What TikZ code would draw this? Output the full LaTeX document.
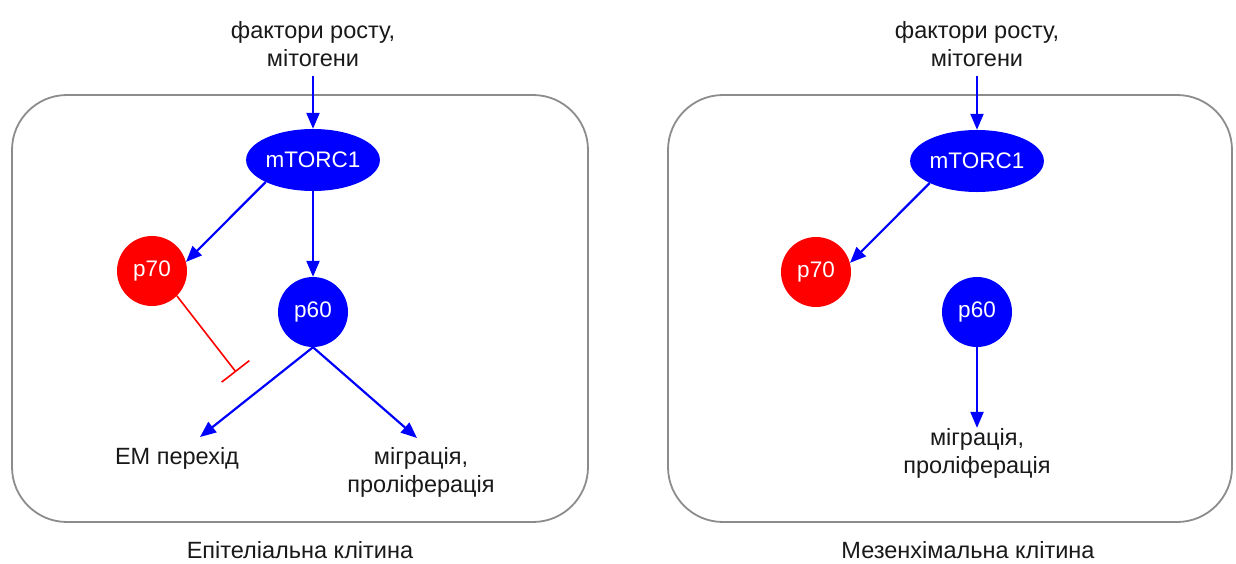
\documentclass[tikz,border=0pt]{standalone}
\usepackage{fontspec}
\setmainfont{Liberation Sans}
\usetikzlibrary{shapes.geometric,arrows.meta}
\definecolor{sigblue}{RGB}{0,0,255}
\definecolor{sigred}{RGB}{255,0,0}
\definecolor{cellgray}{RGB}{140,140,140}
\definecolor{ink}{RGB}{25,25,25}
\tikzset{
  cell/.style={draw=cellgray, line width=1.8pt, rounded corners=55pt},
  lbl/.style={text=ink, font=\fontsize{23.5}{28}\selectfont, align=center, inner sep=0pt},
  kinase/.style={ellipse, fill=sigblue, text=white, minimum width=130pt, minimum height=62pt, inner sep=0pt, font=\fontsize{22.5}{26}\selectfont},
  redball/.style={circle, fill=sigred, text=white, minimum size=70pt, inner sep=0pt, font=\fontsize{22.5}{26}\selectfont},
  blueball/.style={circle, fill=sigblue, text=white, minimum size=70pt, inner sep=0pt, font=\fontsize{22.5}{26}\selectfont},
  act/.style={draw=sigblue, line width=2.2pt, -{Triangle[length=16pt,width=13pt]}},
  inh/.style={draw=sigred, line width=1.6pt, -{Bar[width=35pt]}},
}
\begin{document}
\begin{tikzpicture}[x=1pt,y=-1pt]
\useasboundingbox (0,0) rectangle (1236,563);

% epithelial cell
\draw[cell] (12,95) rectangle (588,522);
\node[lbl] (gfL) at (313,44) {фактори росту,\\мітогени};
\coordinate (gfLend) at (313,76);
\node[kinase] (mtL) at (313,160) {mTORC1};
\node[redball] (p70L) at (152,271) {p70};
\node[blueball] (p60L) at (313,312) {p60};
\coordinate (inhL) at (236,372);
\node[lbl] (emt) at (177,458) {ЕМ перехід};
\node[lbl] (migL) at (421,472) {міграція,\\проліферація};
\coordinate (emtTip) at (200,437);
\coordinate (migLTip) at (417,438);
\node[lbl] (capL) at (300,550) {Епітеліальна клітина};

\draw[act] (gfLend) -- (mtL);
\draw[act] (mtL.205) -- (p70L.15);
\draw[act] (mtL) -- (p60L);
\draw[inh] (p70L.-45) -- (inhL);
\draw[act] (p60L.south) -- (emtTip);
\draw[act] (p60L.south) -- (migLTip);

% mesenchymal cell
\draw[cell] (668,95) rectangle (1232,522);
\node[lbl] (gfR) at (977,44) {фактори росту,\\мітогени};
\coordinate (gfRend) at (977,76);
\node[kinase] (mtR) at (977,161) {mTORC1};
\node[redball] (p70R) at (816,272) {p70};
\node[blueball] (p60R) at (977,312) {p60};
\node[lbl] (migR) at (977,453) {міграція,\\проліферація};
\node[lbl] (capR) at (968,550) {Мезенхімальна клітина};

\draw[act] (gfRend) -- (mtR);
\draw[act] (mtR.205) -- (p70R.15);
\draw[act] (p60R) -- (migR);
\end{tikzpicture}
\end{document}
